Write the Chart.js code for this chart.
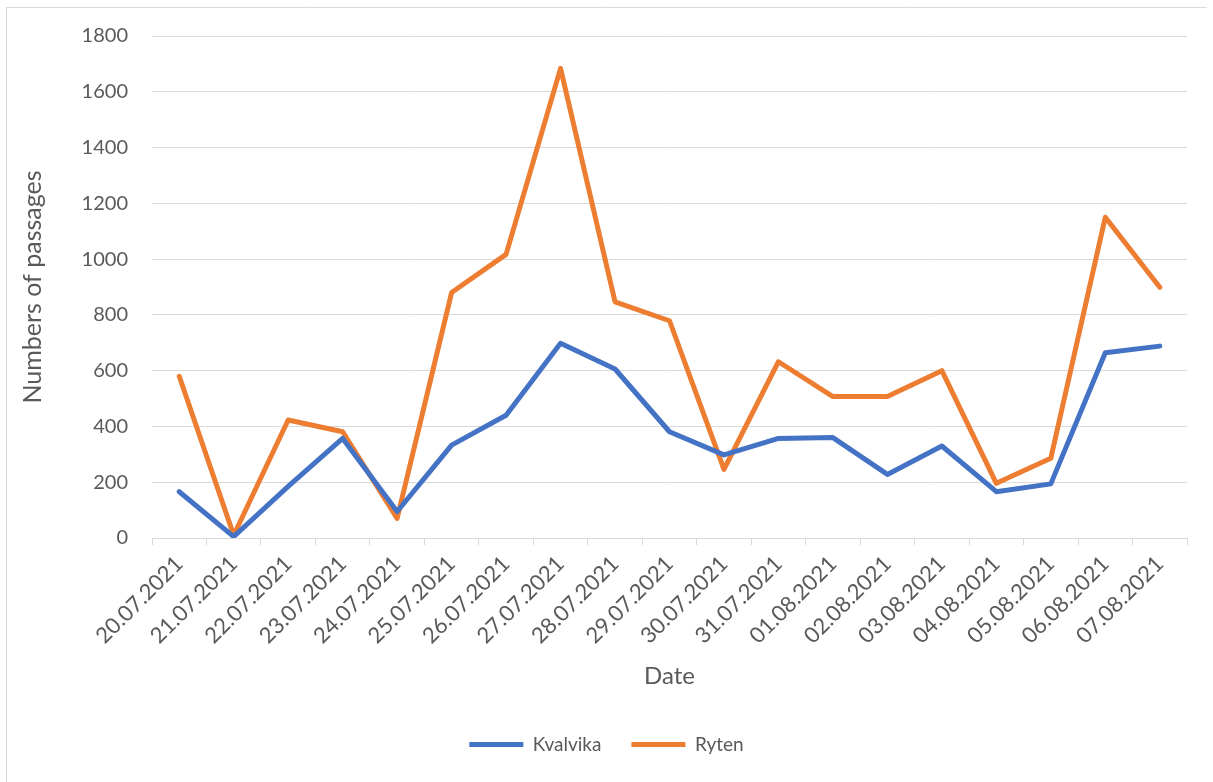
<!DOCTYPE html>
<html>
<head>
<meta charset="utf-8">
<script src="https://cdn.jsdelivr.net/npm/chart.js@4/dist/chart.umd.min.js"></script>
<style>
  html, body { margin: 0; padding: 0; background: #ffffff; }
  #wrap { position: relative; width: 1213px; height: 782px; }
  canvas { display: block; }
</style>
</head>
<body>
<div id="wrap"><canvas id="c" width="1213" height="782"></canvas></div>
<script>
const dates = ['20.07.2021','21.07.2021','22.07.2021','23.07.2021','24.07.2021','25.07.2021','26.07.2021','27.07.2021','28.07.2021','29.07.2021','30.07.2021','31.07.2021','01.08.2021','02.08.2021','03.08.2021','04.08.2021','05.08.2021','06.08.2021','07.08.2021'];
const kvalvika = [166, 5, 185, 357, 95, 333, 440, 698, 606, 381, 298, 357, 360, 228, 330, 166, 194, 664, 688];
const ryten = [580, 10, 423, 381, 70, 880, 1017, 1684, 847, 779, 246, 632, 507, 507, 600, 196, 286, 1150, 899];
const yTicks = [0, 200, 400, 600, 800, 1000, 1200, 1400, 1600, 1800];

const FONT = 'Lato, "Open Sans", sans-serif';
const TXT = '#595959';
const GRID = '#d9d9d9';

const borderPlugin = {
  id: 'outerBorder',
  beforeDraw(chart) {
    const ctx = chart.ctx;
    ctx.save();
    ctx.fillStyle = '#ffffff';
    ctx.fillRect(0, 0, chart.width, chart.height);
    ctx.strokeStyle = GRID;
    ctx.lineWidth = 1;
    ctx.beginPath();
    ctx.moveTo(6.5, 782);
    ctx.lineTo(6.5, 7.5);
    ctx.lineTo(1206.5, 7.5);
    ctx.stroke();
    ctx.restore();
  }
};

new Chart(document.getElementById('c'), {
  type: 'line',
  data: {
    labels: dates,
    datasets: [
      { label: 'Kvalvika', data: kvalvika, borderColor: '#4472C4', backgroundColor: '#4472C4',
        borderWidth: 5, pointRadius: 0, pointHoverRadius: 0, tension: 0,
        borderCapStyle: 'round', borderJoinStyle: 'round' },
      { label: 'Ryten', data: ryten, borderColor: '#ED7D31', backgroundColor: '#ED7D31',
        borderWidth: 5, pointRadius: 0, pointHoverRadius: 0, tension: 0,
        borderCapStyle: 'round', borderJoinStyle: 'round' }
    ]
  },
  options: {
    responsive: false,
    animation: false,
    devicePixelRatio: 1,
    layout: { padding: { left: 26, right: 26, top: 36, bottom: 18 } },
    plugins: {
      legend: {
        position: 'bottom',
        labels: {
          usePointStyle: true,
          pointStyle: 'line',
          pointStyleWidth: 54,
          padding: 30,
          color: TXT,
          font: { family: FONT, size: 19 }
        }
      },
      tooltip: { enabled: false }
    },
    scales: {
      x: {
        offset: true,
        grid: { display: true, drawOnChartArea: false, drawTicks: true, tickLength: 7, offset: true, color: GRID, lineWidth: 1 },
        border: { display: true, color: GRID, width: 1 },
        ticks: { color: TXT, font: { family: FONT, size: 22 }, minRotation: 45, maxRotation: 45, padding: 6, autoSkip: false },
        title: { display: true, text: 'Date', color: TXT, font: { family: FONT, size: 24 }, padding: { top: 0, bottom: 14 } },
        afterFit(scale) { scale.height = 167; }
      },
      y: {
        min: 0, max: 1800,
        afterBuildTicks(scale) { scale.ticks = yTicks.map(v => ({ value: v })); },
        grid: { color: GRID, lineWidth: 1, drawTicks: false },
        border: { display: false },
        ticks: { color: TXT, font: { family: FONT, size: 20 }, padding: 24, callback: (v) => String(v) },
        title: { display: true, text: 'Numbers of passages', color: TXT, font: { family: FONT, size: 25 }, padding: { top: -8, bottom: 0 } },
        afterFit(scale) { scale.width = 126; }
      }
    }
  },
  plugins: [borderPlugin]
});
</script>
</body>
</html>
